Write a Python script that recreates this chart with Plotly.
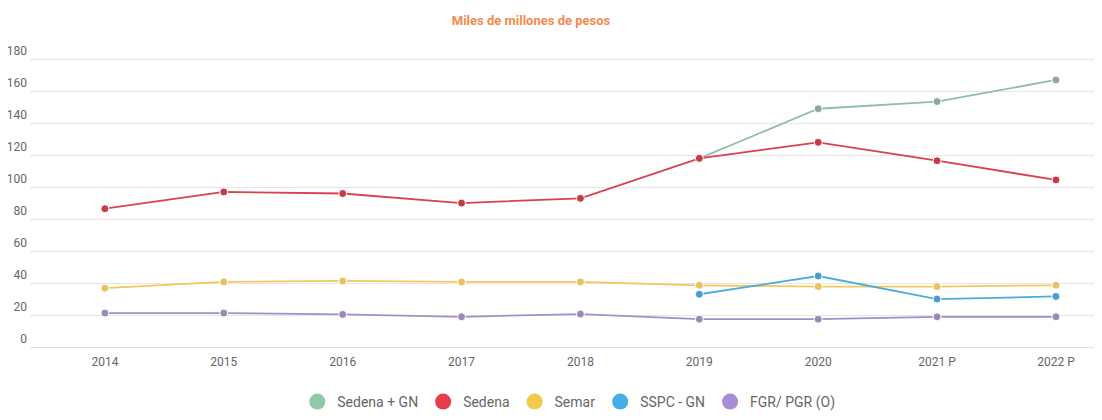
import plotly.graph_objects as go

years = ["2014", "2015", "2016", "2017", "2018", "2019", "2020", "2021 P", "2022 P"]
sedena_gn = [None, None, None, None, None, 118, 149, 153.5, 167]
sedena = [86.5, 97, 96, 90, 93, 118, 128, 116.5, 104.5]
semar = [36.8, 40.7, 41.3, 40.7, 40.7, 38.6, 37.8, 37.8, 38.6]
sspc_gn = [None, None, None, None, None, 33, 44.4, 30, 31.6]
fgr = [21.2, 21.2, 20.4, 18.9, 20.6, 17.4, 17.4, 18.9, 18.9]

series_names = ["Sedena + GN", "Sedena", "Semar", "SSPC - GN", "FGR/ PGR (O)"]
series_values = [sedena_gn, sedena, semar, sspc_gn, fgr]
line_colors = ["#8fbfa6", "#d9414f", "#f0c85c", "#4cacdc", "#a48fcc"]
marker_colors = ["#8aa99a", "#c93a48", "#e7c260", "#4a9ccc", "#9a8ab5"]
legend_colors = ["#8fc9a8", "#e63c4c", "#f2c94c", "#45aee6", "#a88ed6"]

yticks = [0, 20, 40, 60, 80, 100, 120, 140, 160, 180]

# page body has an 8px default margin; the figure is sized to fit the window
W, H = 1094, 412

fig = go.Figure()
xs = list(range(len(years)))
for name, vals, lc, mc in zip(series_names, series_values, line_colors, marker_colors):
    fig.add_trace(go.Scatter(
        x=xs, y=vals, name=name, mode="lines+markers",
        line=dict(color=lc, width=1.8),
        marker=dict(color=mc, size=8, line=dict(color="white", width=1)),
        showlegend=False, connectgaps=False,
    ))
for name, c in zip(series_names, legend_colors):
    fig.add_trace(go.Scatter(
        x=[None], y=[None], name=name, mode="markers",
        marker=dict(color=c, size=16), showlegend=True,
    ))

fig.update_layout(
    width=W, height=H,
    margin=dict(l=22, r=8, t=48, b=73, autoexpand=False),
    paper_bgcolor="white", plot_bgcolor="white",
    font=dict(family="Roboto, Noto Sans, sans-serif", size=12, color="#666666"),
    title=dict(text="<b>Miles de millones de pesos</b>", x=523 / W, xanchor="center",
               xref="container", yref="container",
               y=1 - 12 / H, yanchor="middle",
               font=dict(size=13, color="#f58a4e")),
    legend=dict(orientation="h", x=554 / W, xanchor="center",
                yref="container", y=(H - 394) / H, yanchor="middle",
                font=dict(size=14, color="#666666"), itemsizing="trace",
                itemwidth=30, tracegroupgap=0),
    xaxis=dict(
        tickmode="array", tickvals=xs, ticktext=years,
        range=[-0.63, 8.32], showgrid=False, zeroline=False,
        showline=False, ticks="", tickfont=dict(size=12, color="#666666"),
        ticklabelstandoff=6, automargin=False,
    ),
    yaxis=dict(
        tickmode="array", tickvals=yticks, range=[0, 182],
        showgrid=True, gridcolor="#e6e6e6", gridwidth=1,
        zeroline=True, zerolinecolor="#e0e0e0", zerolinewidth=1,
        showline=False, ticks="",
        ticklabelposition="outside top", ticklabelstandoff=2,
        tickfont=dict(size=12, color="#666666"), automargin=False,
    ),
)

fig.write_html("out.html")
